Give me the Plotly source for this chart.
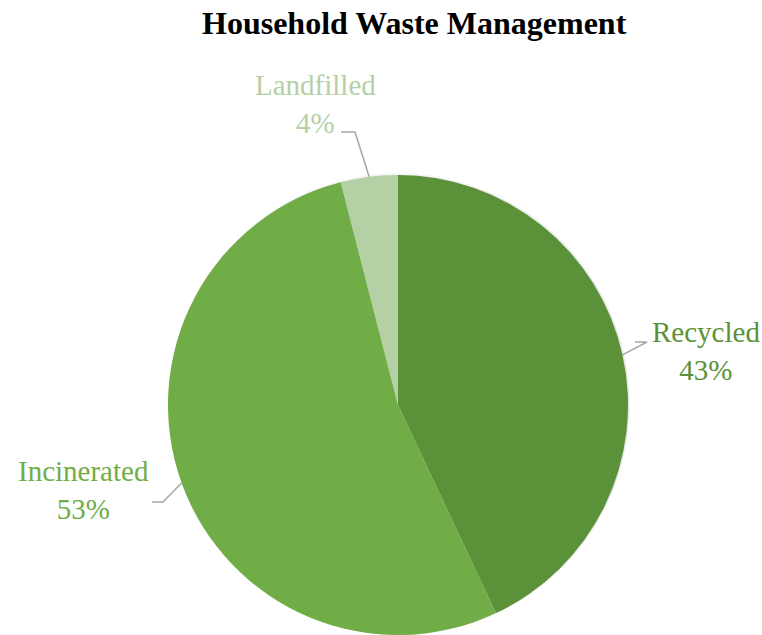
import math
import plotly.graph_objects as go

# ---- data ----
categories = ["Recycled", "Incinerated", "Landfilled"]
shares = [43, 53, 4]
slice_colors = ["#5B9138", "#70AD47", "#B4D0A5"]

# ---- layout constants (pixels) ----
W, H = 762, 635
CX, CY, R = 398, 405, 230
SERIF = "Liberation Serif, DejaVu Serif, serif"
# label block centre and leader elbow per category (layout only)
label_pos = {"Recycled": (706, 351), "Incinerated": (83, 490), "Landfilled": (315, 104)}
elbow = {"Recycled": (647, 342), "Incinerated": (163, 502), "Landfilled": (355, 132)}
line_end = {"Recycled": (635, 342), "Incinerated": (152, 502), "Landfilled": (341, 132)}

def px(x):
    return min(1, max(0, x / W))

def py(y):
    return min(1, max(0, 1 - y / H))

fig = go.Figure()

# soft shadow behind the pie (decoration)
for grow, dy, alpha in [(6, 4, 0.025), (4, 3, 0.035), (2, 2, 0.05)]:
    fig.add_trace(go.Pie(
        values=[1], sort=False, textinfo="none", hoverinfo="skip", showlegend=False,
        marker=dict(colors=[f"rgba(0,0,0,{alpha})"], line=dict(width=0)),
        domain=dict(x=[px(CX - R - grow + 1), px(CX + R + grow + 1)],
                    y=[py(CY + dy + R + grow), py(CY + dy - R - grow)]),
    ))

fig.add_trace(go.Pie(
    labels=categories, values=shares, sort=False, direction="clockwise", rotation=0,
    marker=dict(colors=slice_colors, line=dict(width=0)),
    textinfo="none", hoverinfo="label+percent", showlegend=False,
    domain=dict(x=[px(CX - R), px(CX + R)], y=[py(CY + R), py(CY - R)]),
))

total = sum(shares)
cum = 0
shapes = []
annotations = []
for cat, v, col in zip(categories, shares, slice_colors):
    mid = (cum + v / 2) / total * 2 * math.pi
    cum += v
    ex = CX + R * math.sin(mid)
    ey = CY - R * math.cos(mid)
    bx, by = elbow[cat]
    lx, ly = line_end[cat]
    shapes.append(dict(type="path", xref="paper", yref="paper",
                       path=f"M {px(ex)} {py(ey)} L {px(bx)} {py(by)} L {px(lx)} {py(ly)}",
                       line=dict(color="#A6A6A6", width=1.5)))
    tx, ty = label_pos[cat]
    pct = round(v / total * 100)
    annotations.append(dict(text=f"{cat}<br>{pct}%", x=px(tx), y=py(ty), xref="paper", yref="paper",
                            xanchor="center", yanchor="middle", showarrow=False,
                            font=dict(family=SERIF, size=29, color=col)))

annotations.append(dict(text="<b>Household Waste Management</b>", x=px(415), y=py(23),
                        xref="paper", yref="paper", xanchor="center", yanchor="middle",
                        showarrow=False, font=dict(family=SERIF, size=32, color="#000000")))

fig.update_layout(width=W, height=H, margin=dict(l=0, r=0, t=0, b=0),
                  paper_bgcolor="white", plot_bgcolor="white",
                  shapes=shapes, annotations=annotations)

fig.write_html("out.html")
